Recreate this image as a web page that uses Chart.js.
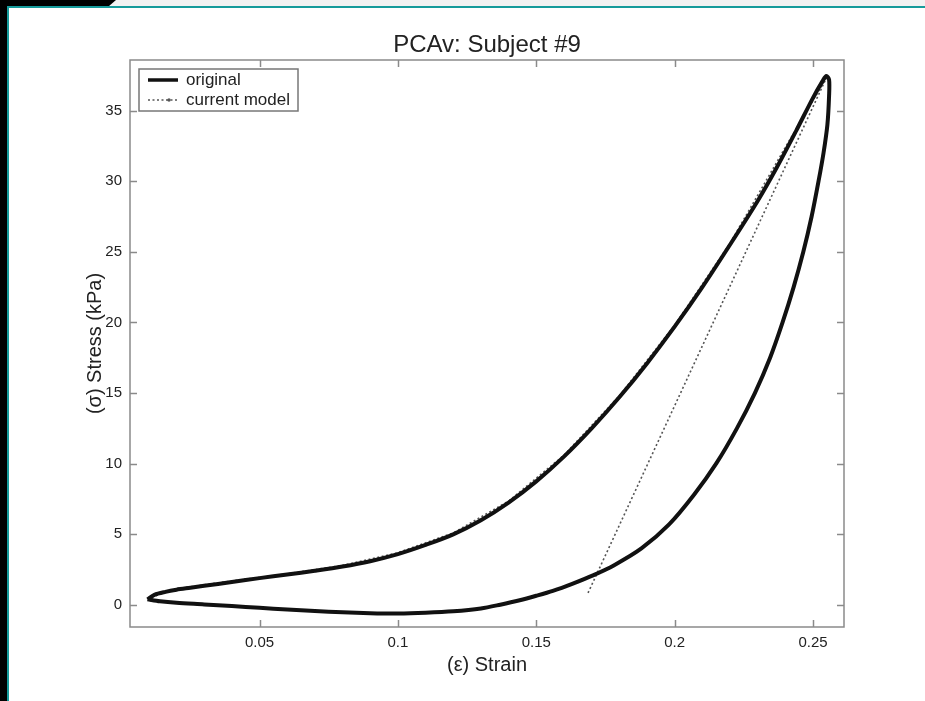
<!DOCTYPE html>
<html>
<head>
<meta charset="utf-8">
<script src="https://cdn.jsdelivr.net/npm/chart.js@4.4.0/dist/chart.umd.min.js"></script>
<style>
html, body { margin: 0; padding: 0; background: #fff; }
#wrap { position: relative; width: 925px; height: 701px; overflow: hidden; background: #fff; }
.topstrip { position: absolute; left: 0; top: 0; width: 925px; height: 6px; background: #f2f2f2; }
.toptab { position: absolute; left: 0; top: 0; width: 116px; height: 7px; background: #000; clip-path: polygon(0 0, 100% 0, 93% 100%, 0 100%); }
.leftbar { position: absolute; left: 0; top: 0; width: 7px; height: 701px; background: #000; }
.topline { position: absolute; left: 7px; top: 6px; width: 918px; height: 2px; background: #169b9b; }
.leftline { position: absolute; left: 7px; top: 6px; width: 2px; height: 695px; background: #169b9b; }
canvas { position: absolute; left: 0; top: 0; }
</style>
</head>
<body>
<div id="wrap">
  <div class="topstrip"></div>
  <div class="toptab"></div>
  <div class="leftbar"></div>
  <div class="topline"></div>
  <div class="leftline"></div>
  <canvas id="myChart" width="925" height="701"></canvas>
</div>
<script>
// tick labels
const xTicks = [0.05, 0.1, 0.15, 0.2, 0.25];
const yTicks = [0, 5, 10, 15, 20, 25, 30, 35];

// measured loop: loading branch, peak, unloading branch back to the start
const origStrain = [
  0.0095, 0.012, 0.016, 0.02, 0.025, 0.03, 0.04, 0.05, 0.06, 0.07, 0.08, 0.09, 0.1, 0.11, 0.12,
  0.13, 0.14, 0.15, 0.16, 0.17, 0.18, 0.19, 0.2, 0.21, 0.22, 0.23, 0.237, 0.244, 0.25, 0.2535, 0.2548,
  0.2558, 0.2558, 0.2552, 0.2538, 0.252, 0.2495, 0.2465, 0.243, 0.239, 0.2345, 0.229, 0.2225, 0.215,
  0.207, 0.198, 0.188, 0.178, 0.1705, 0.163, 0.156, 0.15, 0.144, 0.137, 0.13, 0.12, 0.11, 0.1, 0.09,
  0.08, 0.07, 0.06, 0.05, 0.04, 0.03, 0.02, 0.014, 0.0095
];
const origStress = [
  0.4, 0.72, 0.93, 1.08, 1.22, 1.36, 1.62, 1.9, 2.15, 2.42, 2.72, 3.1, 3.6, 4.25, 5.0,
  6.0, 7.25, 8.75, 10.5, 12.5, 14.7, 17.1, 19.7, 22.5, 25.5, 28.6, 31.0, 33.6, 35.9, 37.1, 37.45,
  37.2, 36.0, 34.0, 32.0, 30.0, 27.5, 25.0, 22.5, 20.0, 17.5, 15.0, 12.5, 10.0,
  7.8, 5.7, 4.0, 2.8, 2.1, 1.5, 1.0, 0.65, 0.33, 0.02, -0.25, -0.45, -0.55, -0.6, -0.58,
  -0.52, -0.43, -0.32, -0.2, -0.08, 0.04, 0.15, 0.26, 0.4
];

// model: loading branch then the straight drop from the peak
const modelStrain = [0.0095, 0.02, 0.04, 0.06, 0.08, 0.1, 0.12, 0.14, 0.16, 0.18, 0.2, 0.22, 0.24, 0.2548, 0.1687];
const modelStress = [0.45, 1.15, 1.7, 2.2, 2.8, 3.7, 5.1, 7.35, 10.6, 14.8, 19.8, 25.6, 32.4, 37.3, 0.85];

const FONT = "'Liberation Sans', Arial, Helvetica, sans-serif";
const TXT = '#222';
const AXC = '#8a8a8a';

const toPts = (xs, ys) => xs.map((x, i) => ({ x: x, y: ys[i] }));

// box round the axes, inward ticks on all four sides, legend inside the axes
const frame = {
  id: 'frame',
  afterDatasetsDraw(chart) {
    const ctx = chart.ctx;
    const a = chart.chartArea;
    const sx = chart.scales.x, sy = chart.scales.y;
    ctx.save();
    ctx.strokeStyle = AXC;
    ctx.lineWidth = 1.5;
    ctx.strokeRect(a.left, a.top, a.right - a.left, a.bottom - a.top);
    ctx.beginPath();
    xTicks.forEach(v => {
      const p = Math.round(sx.getPixelForValue(v)) + 0.5;
      ctx.moveTo(p, a.bottom); ctx.lineTo(p, a.bottom - 7);
      ctx.moveTo(p, a.top); ctx.lineTo(p, a.top + 7);
    });
    yTicks.forEach(v => {
      const p = Math.round(sy.getPixelForValue(v)) + 0.5;
      ctx.moveTo(a.left, p); ctx.lineTo(a.left + 7, p);
      ctx.moveTo(a.right, p); ctx.lineTo(a.right - 7, p);
    });
    ctx.stroke();

    // legend
    const lx = a.left + 9, ly = a.top + 9, lw = 159, lh = 42;
    ctx.fillStyle = '#fff';
    ctx.fillRect(lx, ly, lw, lh);
    ctx.strokeStyle = '#777';
    ctx.lineWidth = 1.5;
    ctx.strokeRect(lx, ly, lw, lh);
    ctx.font = '17px ' + FONT;
    ctx.textBaseline = 'middle';
    ctx.fillStyle = TXT;
    chart.data.datasets.forEach((ds, i) => {
      const yy = ly + 11 + i * 20;
      ctx.save();
      ctx.strokeStyle = ds.borderColor;
      ctx.lineWidth = Math.min(ds.borderWidth, 3.5);
      ctx.setLineDash(ds.borderDash || []);
      ctx.beginPath();
      ctx.moveTo(lx + 9, yy); ctx.lineTo(lx + 39, yy);
      ctx.stroke();
      if (ds.borderDash) {
        ctx.fillStyle = ds.borderColor;
        ctx.beginPath();
        ctx.arc(lx + 30, yy, 1.7, 0, Math.PI * 2);
        ctx.fill();
      }
      ctx.restore();
      ctx.fillText(ds.label, lx + 47, yy);
    });
    ctx.restore();
  }
};

const ctx = document.getElementById('myChart').getContext('2d');
const myChart = new Chart(ctx, {
  type: 'scatter',
  data: {
    datasets: [{
      label: 'original',
      data: toPts(origStrain, origStress),
      showLine: true,
      borderColor: '#111',
      borderWidth: 4,
      tension: 0.3,
      pointRadius: 0,
      fill: false
    }, {
      label: 'current model',
      data: toPts(modelStrain, modelStress),
      showLine: true,
      borderColor: '#555',
      borderWidth: 1.6,
      borderDash: [2, 2.5],
      tension: 0,
      pointRadius: 0,
      fill: false
    }]
  },
  options: {
    responsive: false,
    animation: false,
    events: [],
    layout: { padding: { left: 0, right: 81, top: 0, bottom: 0 } },
    plugins: {
      legend: { display: false },
      tooltip: { enabled: false },
      title: {
        display: true,
        fullSize: false,
        text: 'PCAv: Subject #9',
        color: TXT,
        font: { family: FONT, size: 24, weight: 'normal' },
        padding: { top: 30.6, bottom: 0.6 }
      }
    },
    scales: {
      x: {
        type: 'linear',
        min: 0.0032,
        max: 0.2612,
        grid: { display: false, drawTicks: false },
        border: { display: false },
        afterBuildTicks: s => { s.ticks = xTicks.map(v => ({ value: v })); },
        afterFit: s => { s.height = 74; },
        ticks: {
          padding: 7,
          color: TXT,
          maxRotation: 0,
          autoSkip: false,
          font: { family: FONT, size: 15 },
          callback: v => String(v)
        },
        title: {
          display: true,
          text: '(ε) Strain',
          color: TXT,
          font: { family: FONT, size: 20 },
          padding: { top: 0, bottom: 24 }
        }
      },
      y: {
        type: 'linear',
        min: -1.56,
        max: 38.58,
        grid: { display: false, drawTicks: false },
        border: { display: false },
        afterBuildTicks: s => { s.ticks = yTicks.map(v => ({ value: v })); },
        afterFit: s => { s.width = 130; },
        ticks: {
          padding: 8,
          color: TXT,
          autoSkip: false,
          font: { family: FONT, size: 15 },
          callback: v => String(v)
        },
        title: {
          display: true,
          text: '(σ) Stress (kPa)',
          color: TXT,
          font: { family: FONT, size: 20 },
          padding: { top: 83, bottom: 0 }
        }
      }
    }
  },
  plugins: [frame]
});
</script>
</body>
</html>
